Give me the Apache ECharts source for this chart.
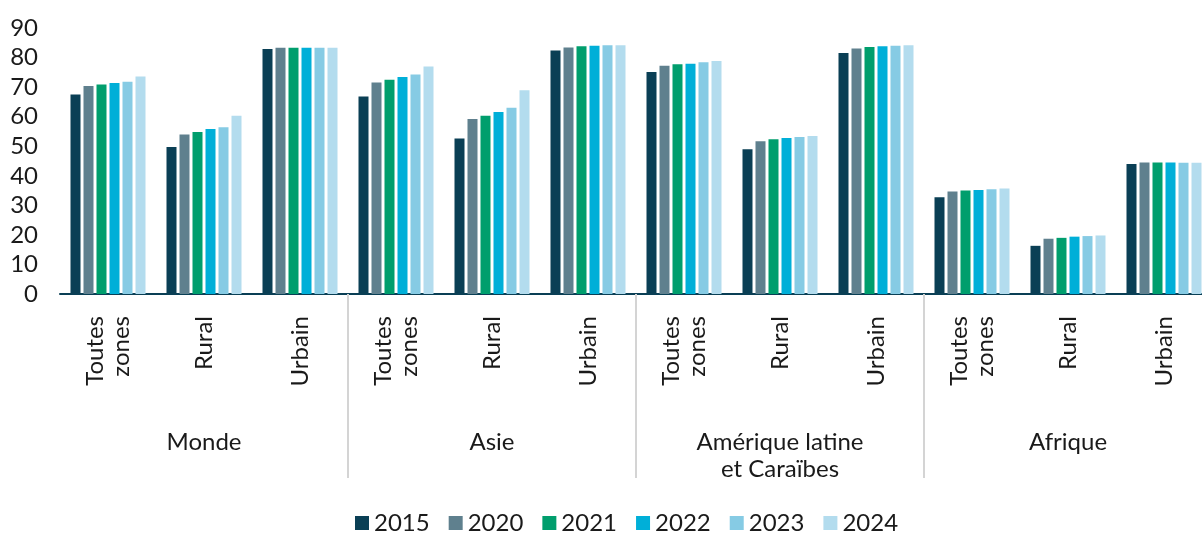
<!DOCTYPE html>
<html>
<head>
<meta charset="utf-8">
<title>Chart</title>
<script src="https://cdn.jsdelivr.net/npm/echarts@6.0.0/dist/echarts.min.js"></script>
<style>
    html, body { margin: 0; padding: 0; background: #fff; }
    #chart { width: 1202px; height: 534px; }
</style>
</head>
<body>
<div id="chart"></div>
<script>
// zones (12 categories) and their region groups
var zones = ['Toutes\nzones', 'Rural', 'Urbain', 'Toutes\nzones', 'Rural', 'Urbain',
    'Toutes\nzones', 'Rural', 'Urbain', 'Toutes\nzones', 'Rural', 'Urbain'];
var regions = ['Monde', 'Asie', 'Amérique latine\net Caraïbes', 'Afrique'];
var years = ['2015', '2020', '2021', '2022', '2023', '2024'];
var yTicks = [0, 10, 20, 30, 40, 50, 60, 70, 80, 90];

var v2015 = [67.5, 49.7, 82.9, 66.8, 52.6, 82.4, 75.1, 49.0, 81.5, 32.7, 16.3, 44.0];
var v2020 = [70.4, 54.0, 83.3, 71.6, 59.2, 83.4, 77.2, 51.7, 83.1, 34.7, 18.7, 44.5];
var v2021 = [70.9, 54.8, 83.3, 72.5, 60.3, 83.8, 77.7, 52.4, 83.6, 35.0, 19.0, 44.5];
var v2022 = [71.4, 55.8, 83.3, 73.4, 61.6, 84.0, 77.9, 52.8, 83.8, 35.2, 19.4, 44.5];
var v2023 = [71.8, 56.4, 83.3, 74.3, 63.0, 84.2, 78.4, 53.1, 84.0, 35.4, 19.6, 44.4];
var v2024 = [73.6, 60.3, 83.3, 77.0, 68.9, 84.2, 78.8, 53.5, 84.2, 35.7, 19.8, 44.4];

var colors = ['#0a3f55', '#5f808e', '#009e6d', '#00afd8', '#86cbe4', '#b3dcee'];
var values = [v2015, v2020, v2021, v2022, v2023, v2024];

var font = 'Lato, "Noto Sans", sans-serif';
var textColor = '#1a1a1a';

var series = [];
for (var i = 0; i < years.length; i++) {
    series.push({
        name: years[i],
        type: 'bar',
        xAxisIndex: 0,
        barWidth: 10,
        barGap: '30%',
        itemStyle: { color: colors[i] },
        data: values[i]
    });
}

var option = {
    animation: false,
    color: colors,
    textStyle: { fontFamily: font },
    grid: {
        left: 60,
        width: 1152,
        top: 28,
        bottom: 240,
        containLabel: false,
        outerBoundsMode: 'none'
    },
    legend: {
        data: years,
        left: 350,
        top: 506,
        icon: 'rect',
        itemWidth: 14,
        itemHeight: 14,
        itemGap: 19,
        textStyle: { fontFamily: font, fontSize: 24, color: textColor }
    },
    xAxis: [
        {
            type: 'category',
            data: zones,
            position: 'bottom',
            axisLine: { show: true, lineStyle: { color: '#0a3f55', width: 2 } },
            axisTick: { show: false },
            axisLabel: {
                rotate: 90,
                interval: 0,
                margin: 22,
                fontSize: 24,
                lineHeight: 26,
                color: textColor,
                fontFamily: font
            }
        },
        {
            type: 'category',
            data: regions,
            position: 'bottom',
            axisLine: { show: false },
            axisTick: {
                show: true,
                length: 184,
                interval: function (index) { return index > 0; },
                lineStyle: { color: '#d4d4d4', width: 2 }
            },
            axisLabel: {
                interval: 0,
                margin: 135,
                fontSize: 24,
                lineHeight: 27,
                color: textColor,
                fontFamily: font
            }
        }
    ],
    yAxis: {
        type: 'value',
        min: yTicks[0],
        max: yTicks[yTicks.length - 1],
        interval: 10,
        axisLine: { show: false },
        axisTick: { show: false },
        splitLine: { show: false },
        axisLabel: {
            margin: 22,
            fontSize: 24,
            color: textColor,
            fontFamily: font
        }
    },
    series: series
};

var chart = echarts.init(document.getElementById('chart'));
chart.setOption(option);
window.addEventListener('resize', function () { chart.resize(); });
</script>
</body>
</html>
